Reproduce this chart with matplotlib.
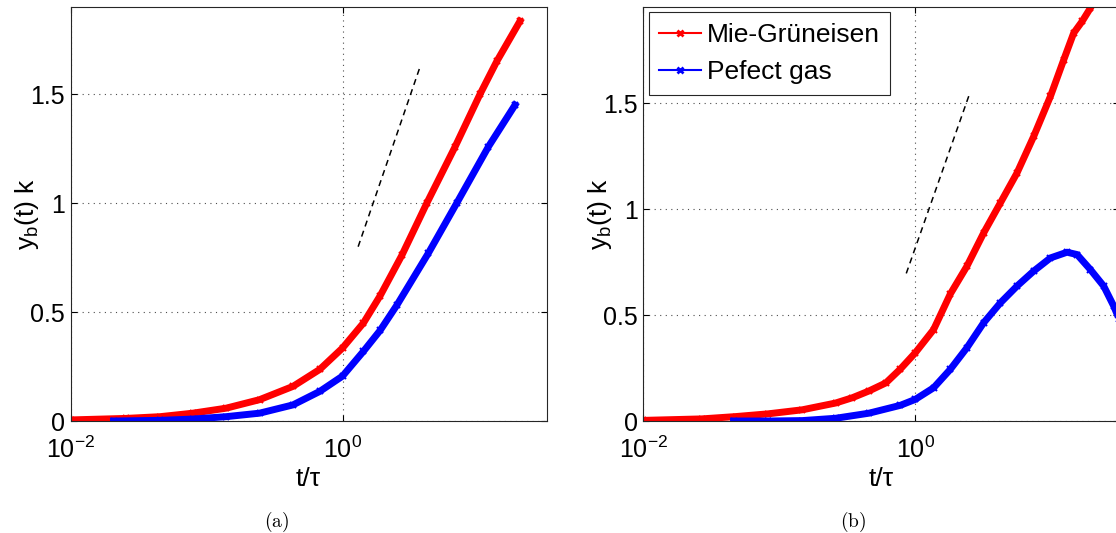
import matplotlib
matplotlib.use("Agg")
import matplotlib.pyplot as plt
from matplotlib.lines import Line2D

plt.rcParams['font.family'] = ['Liberation Sans', 'DejaVu Sans']
plt.rcParams['mathtext.fontset'] = 'custom'
plt.rcParams['mathtext.rm'] = 'Liberation Sans'
plt.rcParams['mathtext.it'] = 'Liberation Sans:italic'
plt.rcParams['mathtext.bf'] = 'Liberation Sans:bold'

# (a) values
t_mg_a = [0.01, 0.0257, 0.0457, 0.0794, 0.1396, 0.2455, 0.4325, 0.6808, 1.0, 1.426,
          1.892, 2.729, 4.169, 6.730, 10.26, 13.61, 20.18]
y_mg_a = [0.005, 0.012, 0.02, 0.036, 0.059, 0.098, 0.159, 0.237, 0.335, 0.45,
          0.575, 0.76, 1.0, 1.259, 1.5, 1.65, 1.835]
t_pg_a = [0.0207, 0.0457, 0.0794, 0.1396, 0.2455, 0.4325, 0.6808, 1.0, 1.426, 1.892,
          2.512, 4.285, 6.918, 11.83, 18.54]
y_pg_a = [0.0, 0.003, 0.009, 0.02, 0.036, 0.074, 0.136, 0.206, 0.32, 0.416,
          0.532, 0.771, 1.0, 1.259, 1.45]
t_ref_a = [1.303, 3.724]
y_ref_a = [0.80, 1.627]

# (b)
t_mg_b = [0.01, 0.0269, 0.0479, 0.0832, 0.1479, 0.26, 0.3451, 0.4571, 0.6081, 0.7762,
          1.0, 1.365, 1.811, 2.399, 3.184, 4.227, 5.598, 7.43, 9.863, 12.36,
          14.62, 16.87, 19.41, 21.38]
y_mg_b = [0.003, 0.01, 0.021, 0.034, 0.053, 0.085, 0.11, 0.142, 0.18, 0.245,
          0.322, 0.432, 0.6, 0.731, 0.888, 1.03, 1.171, 1.344, 1.533, 1.706,
          1.832, 1.887, 1.95, 2.0]
t_pg_b = [0.0461, 0.0832, 0.1479, 0.26, 0.4571, 0.7762, 1.0, 1.365, 1.811, 2.399,
          3.184, 4.227, 5.598, 7.43, 9.863, 13.06, 15.49, 19.41, 24.32, 28.84, 31.6]
y_pg_b = [0.0, 0.0, 0.002, 0.013, 0.037, 0.074, 0.102, 0.157, 0.244, 0.346,
          0.464, 0.558, 0.637, 0.708, 0.77, 0.797, 0.786, 0.715, 0.637, 0.542, 0.48]
t_ref_b = [0.859, 2.512]
y_ref_b = [0.697, 1.546]

x_ticks = [1e-2, 1e0]
x_ticklabels = [r'$\mathregular{10^{-2}}$', r'$\mathregular{10^{0}}$']
y_ticks = [0, 0.5, 1, 1.5]
y_ticklabels = ['0', '0.5', '1', '1.5']


def setup_axes(ax, ymax):
    ax.set_xscale('log')
    ax.set_xlim(1e-2, 10 ** 1.5)
    ax.set_ylim(0, ymax)
    ax.set_xticks(x_ticks)
    ax.set_xticklabels(x_ticklabels)
    ax.xaxis.set_minor_locator(matplotlib.ticker.NullLocator())
    ax.set_yticks(y_ticks)
    ax.set_yticklabels(y_ticklabels)
    ax.tick_params(direction='in', length=4, width=0.8, labelsize=18,
                   top=True, right=True, pad=4)
    ax.tick_params(axis='x', pad=11)
    ax.grid(True, linestyle=(0, (1, 4)), linewidth=0.8, color='0.3')
    for s in ax.spines.values():
        s.set_linewidth(0.8)
        s.set_color('0.15')
    ax.set_xlabel('t/τ', fontsize=19, labelpad=3)
    ax.set_ylabel(r'$\mathregular{y_b(t)\ k}$', fontsize=19)
    ax.yaxis.set_label_coords(-0.062, 0.5)


fig = plt.figure(figsize=(11.16, 5.33), dpi=100)
ax1 = fig.add_axes([0.0632, 0.2101, 0.4265, 0.7768])
ax2 = fig.add_axes([0.5764, 0.2101, 0.4265, 0.7768])

style = dict(linewidth=5, marker='x', markersize=5, markeredgewidth=1.5)

ax1.plot(t_mg_a, y_mg_a, color='#ff0000', **style)
ax1.plot(t_pg_a, y_pg_a, color='#0000ff', **style)
ax1.plot(t_ref_a, y_ref_a, color='k', linestyle=(0, (4, 3)), linewidth=1.1)
setup_axes(ax1, 1.9)

ax2.plot(t_mg_b, y_mg_b, color='#ff0000', **style)
ax2.plot(t_pg_b, y_pg_b, color='#0000ff', **style)
ax2.plot(t_ref_b, y_ref_b, color='k', linestyle=(0, (4, 3)), linewidth=1.1)
setup_axes(ax2, 1.955)

handles = [Line2D([], [], color='#ff0000', lw=1.5, marker='x', ms=5, mew=2),
           Line2D([], [], color='#0000ff', lw=1.5, marker='x', ms=5, mew=2)]
leg = ax2.legend(handles, ['Mie-Grüneisen', 'Pefect gas'], loc='upper left',
                 fontsize=19, fancybox=False, framealpha=1, edgecolor='0.15',
                 borderaxespad=0.2, borderpad=0.4, handlelength=1.6,
                 handletextpad=0.2, labelspacing=0.5)
leg.get_frame().set_linewidth(0.8)

fig.text(277 / 1116, 1 - 522 / 533, r'$\mathrm{(a)}$', math_fontfamily='cm',
         fontsize=14, ha='center', va='center')
fig.text(853 / 1116, 1 - 522 / 533, r'$\mathrm{(b)}$', math_fontfamily='cm',
         fontsize=14, ha='center', va='center')

fig.savefig('out.png', dpi=100)
